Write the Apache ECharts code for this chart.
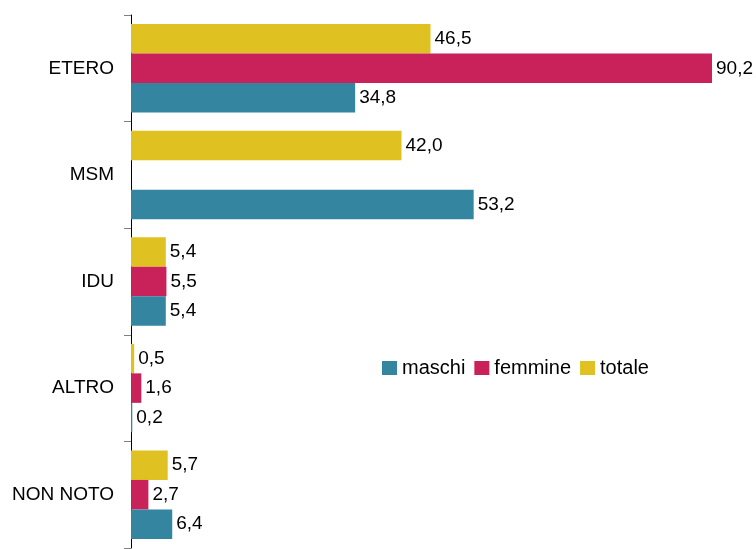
<!DOCTYPE html>
<html>
<head>
<meta charset="utf-8">
<script src="https://cdn.jsdelivr.net/npm/echarts@6/dist/echarts.min.js"></script>
<style>
  html, body { margin: 0; padding: 0; background: #fff; }
  #main { width: 756px; height: 549px; }
</style>
</head>
<body>
<div id="main"></div>
<script>
// categorie dall'alto verso il basso
var categorie = ['ETERO', 'MSM', 'IDU', 'ALTRO', 'NON NOTO'];
var maschi = [34.8, 53.2, 5.4, 0.2, 6.4];
var femmine = [90.2, null, 5.5, 1.6, 2.7];
var totale = [46.5, 42.0, 5.4, 0.5, 5.7];

var font = 'Liberation Sans, Arial, sans-serif';

function etichetta(p) {
  return p.value.toFixed(1).replace('.', ',');
}

function serie(nome, dati, colore) {
  return {
    name: nome,
    type: 'bar',
    data: dati,
    barGap: 0,
    barCategoryGap: '17%',
    itemStyle: { color: colore },
    label: {
      show: true,
      position: 'right',
      distance: 4,
      color: '#000',
      fontFamily: font,
      fontSize: 19,
      formatter: etichetta
    }
  };
}

var chart = echarts.init(document.getElementById('main'));
chart.setOption({
  animation: false,
  grid: { left: 131, right: 44, top: 15, bottom: 1 },
  legend: {
    left: 377,
    top: 353,
    itemWidth: 15,
    itemHeight: 14,
    itemGap: 9,
    data: ['maschi', 'femmine', 'totale'],
    textStyle: { fontFamily: font, fontSize: 20, color: '#000' },
    icon: 'rect'
  },
  xAxis: {
    type: 'value',
    min: 0,
    max: function (v) { return v.max; },
    show: false
  },
  yAxis: {
    type: 'category',
    inverse: true,
    data: categorie,
    axisLine: { lineStyle: { color: '#000', width: 1 } },
    axisTick: { show: true, length: 7, lineStyle: { color: '#808080' } },
    axisLabel: { margin: 17, color: '#000', fontFamily: font, fontSize: 19 }
  },
  // con l'asse invertito la prima serie sta in alto
  series: [
    serie('totale', totale, '#DFC221'),
    serie('femmine', femmine, '#C9225A'),
    serie('maschi', maschi, '#3385A0')
  ]
});
</script>
</body>
</html>
